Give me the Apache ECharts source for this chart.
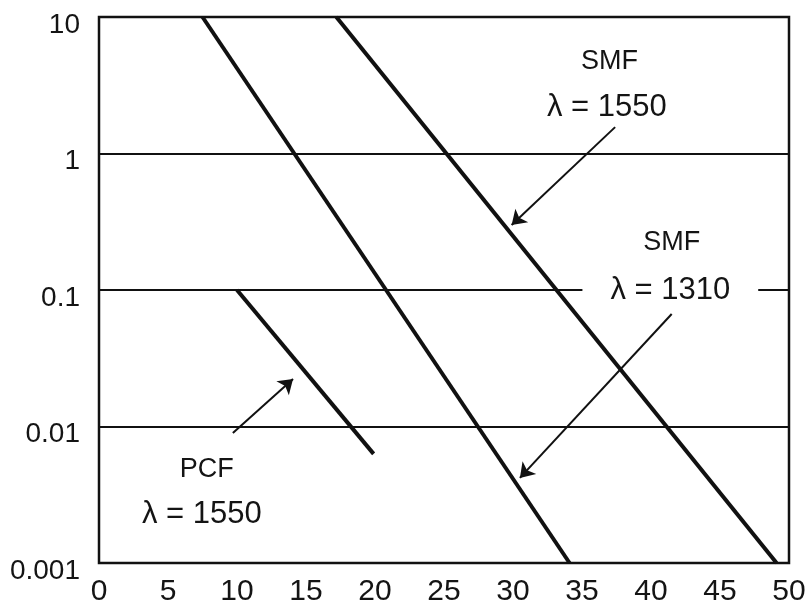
<!DOCTYPE html>
<html>
<head>
<meta charset="utf-8">
<script src="https://cdn.jsdelivr.net/npm/echarts@6/dist/echarts.min.js"></script>
<style>
  html, body { margin: 0; padding: 0; background: #fff; }
  #chart { width: 809px; height: 609px; }
</style>
</head>
<body>
<div id="chart"></div>
<script>
// Fibre traces: x = length, y = level on a log scale
const smf1310X = [7.5, 34.1];
const smf1310Y = [10, 0.001];
const smf1550X = [17.2, 49.1];
const smf1550Y = [10, 0.001];
const pcfX = [10.0, 19.9];
const pcfY = [0.1, 0.0063];

// Axis tick labels
const xTickLabels = ['0', '5', '10', '15', '20', '25', '30', '35', '40', '45', '50'];
const yTickLabels = ['0.001', '0.01', '0.1', '1', '10'];

// Annotation texts and their anchor points (data space)
const noteTexts = ['SMF', 'λ = 1550', 'SMF', 'λ = 1310', 'PCF', 'λ = 1550'];
const noteX = [37.0, 36.8, 41.5, 41.4, 7.8, 7.45];
const noteY = [4.68, 2.19, 0.221, 0.1, 0.0048, 0.00225];

// Arrows: start point -> tip
const arrowFromX = [37.4, 41.5, 9.7];
const arrowFromY = [1.56, 0.0667, 0.00896];
const arrowToX = [29.9, 30.5, 14.06];
const arrowToY = [0.299, 0.0042, 0.0223];

const FONT = '"Liberation Sans", Arial, Helvetica, sans-serif';
const INK = '#111';
const TEXT = '#141414';

function pairs(xs, ys) { return xs.map((x, i) => [x, ys[i]]); }

const noteData = noteTexts.map((t, i) => {
  const key = (t === 'SMF' || t === 'PCF') ? 'name' : (t === 'λ = 1310' ? 'gap' : 'lam');
  return { name: t, value: [noteX[i], noteY[i]], key: key };
});

const arrowData = arrowFromX.map((x, i) => [
  { coord: [x, arrowFromY[i]] },
  { coord: [arrowToX[i], arrowToY[i]] }
]);

const traceStyle = { color: INK, width: 4 };

const option = {
  animation: false,
  backgroundColor: '#fff',
  grid: {
    left: 99, right: 20, top: 17, bottom: 46,
    show: true, borderColor: INK, borderWidth: 2.5, backgroundColor: 'transparent'
  },
  xAxis: {
    type: 'value', min: 0, max: 50, interval: 5,
    axisLine: { show: false }, axisTick: { show: false }, splitLine: { show: false },
    axisLabel: {
      margin: 14,
      fontSize: 30, fontFamily: FONT, color: TEXT,
      formatter: (v) => xTickLabels[Math.round(v / 5)]
    }
  },
  yAxis: {
    type: 'log', logBase: 10, min: 0.001, max: 10,
    axisLine: { show: false }, axisTick: { show: false },
    splitLine: { show: true, lineStyle: { color: INK, width: 2 } },
    axisLabel: {
      margin: 19,
      color: TEXT,
      formatter: (v) => '{t|' + yTickLabels[Math.round(Math.log10(v)) + 3] + '}',
      rich: {
        t: { fontSize: 28, fontFamily: FONT, color: TEXT, padding: [16, 0, 0, 0] }
      }
    }
  },
  series: [
    {
      name: 'SMF 1310', type: 'line', data: pairs(smf1310X, smf1310Y),
      showSymbol: false, silent: true, lineStyle: traceStyle, z: 3
    },
    {
      name: 'SMF 1550', type: 'line', data: pairs(smf1550X, smf1550Y),
      showSymbol: false, silent: true, lineStyle: traceStyle, z: 3
    },
    {
      name: 'PCF 1550', type: 'line', data: pairs(pcfX, pcfY),
      showSymbol: false, silent: true, lineStyle: traceStyle, z: 3,
      markLine: {
        silent: true,
        symbol: ['none', 'arrow'],
        symbolSize: 14,
        label: { show: false },
        itemStyle: { color: INK, opacity: 1 },
        lineStyle: { color: INK, width: 2, type: 'solid', opacity: 1 },
        data: arrowData
      }
    },
    {
      name: 'notes', type: 'scatter', data: noteData,
      symbolSize: 0, silent: true, z: 5,
      itemStyle: { opacity: 1 },
      label: {
        show: true,
        position: [0, 0],
        align: 'center',
        verticalAlign: 'middle',
        formatter: (p) => '{' + p.data.key + '|' + p.name + '}',
        rich: {
          name: { fontSize: 27, fontFamily: FONT, color: TEXT },
          lam: { fontSize: 31, fontFamily: FONT, color: TEXT },
          gap: { fontSize: 31, fontFamily: FONT, color: TEXT, backgroundColor: '#fff', padding: [4, 28] }
        }
      }
    }
  ]
};

const chart = echarts.init(document.getElementById('chart'), null, { renderer: 'canvas' });
chart.setOption(option);
</script>
</body>
</html>
